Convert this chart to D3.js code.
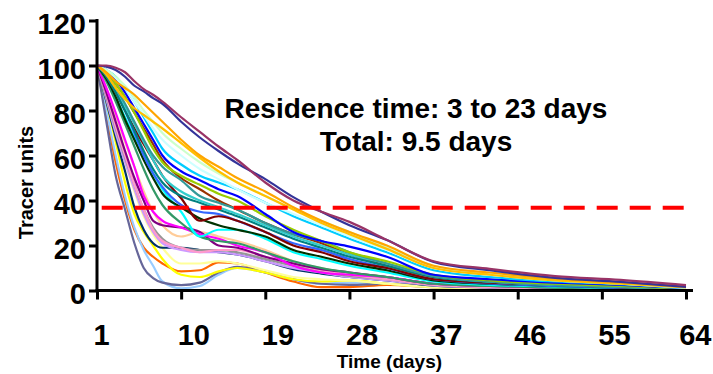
<!DOCTYPE html>
<html>
<head>
<meta charset="utf-8">
<script src="https://cdn.jsdelivr.net/npm/d3@7"></script>
<style>
  html, body { margin: 0; padding: 0; background: #fff; }
  svg { display: block; font-family: "Liberation Sans", Arial, sans-serif; font-weight: bold; }
</style>
</head>
<body>
<svg id="chart" width="713" height="374"></svg>
<script>
// ── Data ─────────────────────────────────────────────────────────────────────
// Sampling days shared by every tracer curve
const days = [1, 2, 3, 4, 5, 6, 7, 8, 10, 12, 14, 16, 19, 22, 25, 28, 32, 37, 43, 50, 57, 64];

const seriesColors = [
  "#FF6600", "#99CCFF", "#666699", "#FFFF00", "#FFFF99", "#003366", "#CC99FF",
  "#969696", "#FF99CC", "#FFCC99", "#800080", "#FF00FF", "#339966", "#00FFFF",
  "#003300", "#3366FF", "#800000", "#993300", "#008080", "#33CCCC", "#339999",
  "#99CC00", "#0000FF", "#00CCFF", "#CCFFFF", "#CCFFCC", "#FFC000", "#FFA500",
  "#333399", "#993366"
];

const seriesValues = [
  [100, 78, 57, 40, 27, 19, 15, 12, 8.5, 9, 12.5, 12, 8, 4, 1.5, 1.5, 2.5, 1.5, 1, 0.6, 0.3, 0.1],
  [100, 80, 60, 42, 28, 18, 11, 4, 1, 2, 7, 10, 8, 5, 3, 3.5, 3, 1.5, 1, 0.5, 0.2, 0.1],
  [100, 75, 51, 36, 21, 10, 5.5, 3.5, 2.4, 3.5, 8, 10.5, 8, 5, 3, 2.5, 3, 1.5, 1, 0.6, 0.3, 0.1],
  [100, 84, 66, 48, 34, 26, 20, 14, 7, 6, 8.5, 10, 8, 5, 4, 4.5, 3, 1.5, 1, 0.6, 0.3, 0.1],
  [100, 86, 71, 57, 44, 33, 25, 19, 12, 12, 13, 12, 9, 6, 5, 4.5, 3, 1.5, 1, 0.6, 0.3, 0.1],
  [100, 84, 68, 53, 37, 27, 21, 19, 19, 18, 17, 16, 13, 9.5, 7.5, 6, 4.5, 2.2, 1.3, 0.8, 0.5, 0.2],
  [100, 85, 70, 57, 45, 34, 26, 21, 18, 17, 17, 16, 13, 10, 8, 6, 4.5, 2.3, 1.4, 0.9, 0.5, 0.2],
  [100, 86, 72, 59, 47, 36, 28, 23, 19, 18, 18, 17, 14, 11, 8.5, 6.5, 5, 2.5, 1.5, 1, 0.6, 0.2],
  [100, 87, 73, 60, 47, 36, 27, 22, 19, 17, 18, 18, 15, 12, 9, 7, 5, 2.5, 1.5, 1, 0.6, 0.2],
  [100, 90, 78, 66, 55, 44, 35, 29, 24, 26, 24, 22, 18, 13, 10, 8, 6, 3, 2, 1.4, 0.8, 0.3],
  [100, 88, 75, 62, 50, 40, 31, 29, 28, 26, 20, 19, 15, 12, 9.5, 8, 6, 3, 2, 1.3, 0.8, 0.3],
  [100, 90, 79, 67, 55, 42, 35, 31, 28, 25, 23, 20, 17, 11, 8, 7, 6, 3, 2, 1.3, 0.8, 0.3],
  [100, 93, 84, 74, 64, 54, 45, 38, 30, 24, 22, 21, 17, 13, 10, 8, 6, 3, 2, 1.2, 0.7, 0.2],
  [100, 94, 86, 77, 68, 60, 52, 45, 35, 24, 27, 27, 23, 17, 14, 11, 8, 4, 2.5, 1.8, 1, 0.3],
  [100, 94, 86, 76, 67, 58, 50, 43, 37, 32, 29, 27, 24, 18, 15, 12, 9, 4.5, 3, 2, 1.2, 0.4],
  [100, 96, 89, 80, 70, 60, 52, 46, 38, 35, 34, 31, 26, 21, 18, 14, 10, 5, 3.2, 2, 1.2, 0.4],
  [100, 95, 88, 80, 72, 65, 58, 51, 41, 31, 33, 31, 26, 20, 17, 13, 10, 5, 3.5, 2.5, 1.5, 0.5],
  [100, 97, 92, 86, 79, 72, 65, 58, 50, 45, 40, 36, 30, 25, 21, 16, 11, 6, 4, 2.5, 1.5, 0.5],
  [100, 95, 88, 80, 71, 62, 54, 48, 42, 39, 36, 33, 28, 23, 19, 15, 11, 6, 3.8, 2.4, 1.5, 0.5],
  [100, 96, 90, 82, 74, 66, 58, 51, 44, 40, 37, 34, 29, 24, 20, 16, 12, 6.5, 4, 2.5, 1.6, 0.5],
  [100, 96, 90, 83, 75, 67, 60, 55, 49, 42, 39, 36, 30, 25, 22, 17, 12, 6.5, 4, 2.5, 1.7, 0.5],
  [100, 97, 92, 86, 79, 71, 63, 57, 51, 47, 43, 40, 33, 27, 22, 17, 13, 7, 4.5, 3, 2, 0.8],
  [100, 98, 94, 88, 81, 74, 67, 60, 53, 49, 45, 42, 34, 26, 22, 19.5, 15, 7, 5, 3.5, 2.5, 1],
  [100, 98, 95, 90, 84, 77, 70, 63, 56, 51, 48, 45, 39, 33, 28, 23, 17, 9, 6, 4, 2.8, 1],
  [100, 98, 94.5, 90, 84, 78, 72, 67, 60, 54, 49.5, 45, 39, 34, 29, 24, 18, 10, 7, 4.5, 3, 1.2],
  [100, 98, 95, 91, 86, 80, 75, 70, 63, 57, 52, 48, 42, 36, 31, 26, 19, 11, 7.5, 5, 3.4, 1.5],
  [100, 96, 90, 85, 81, 78, 75, 72, 65.5, 59, 53, 48, 42, 36, 30, 25, 18.5, 10, 7, 4.5, 3, 1.4],
  [100, 97, 93, 90, 87, 83, 79, 75, 67, 60, 55, 50, 44, 37, 31, 26, 20, 11, 8, 5.3, 3.6, 1.8],
  [100, 99.5, 98, 95, 91, 88.5, 85.5, 83, 75, 68, 62, 56.5, 49.5, 41.5, 35, 29, 22.4, 12.7, 9, 5.6, 3.8, 1.6],
  [100, 100, 99, 97, 93, 89.5, 87, 84, 77, 70.5, 64, 58, 48, 40, 35, 30.5, 22.5, 13, 9.6, 6.4, 4.7, 2.4]
];

const xTicks = [1, 10, 19, 28, 37, 46, 55, 64];
const yTicks = [0, 20, 40, 60, 80, 100, 120];
const threshold = 36.8;   // 100 / e
const titleLines = ["Residence time: 3 to 23 days", "Total: 9.5 days"];

// ── Layout ───────────────────────────────────────────────────────────────────
const svg = d3.select("#chart");
const x = d3.scaleLinear().domain([1, 64]).range([97, 686]);
const y = d3.scaleLinear().domain([0, 120]).range([290.5, 20.5]);

// Curves
const line = d3.line()
  .x((d, i) => x(days[i]))
  .y(d => y(d))
  .curve(d3.curveMonotoneX);

svg.append("g")
  .selectAll("path")
  .data(seriesValues)
  .join("path")
  .attr("d", line)
  .attr("fill", "none")
  .attr("stroke", (d, i) => seriesColors[i])
  .attr("stroke-width", 2.2)
  .attr("stroke-linejoin", "round");

// Red dashed reference line at 1/e
svg.append("line")
  .attr("x1", x(1) + 4.7).attr("x2", x(64) - 2)
  .attr("y1", y(threshold)).attr("y2", y(threshold))
  .attr("stroke", "#ff0000")
  .attr("stroke-width", 4)
  .attr("stroke-dasharray", "21,12");

// ── Axes ─────────────────────────────────────────────────────────────────────
const yAxisG = svg.append("g").attr("transform", `translate(${x(1)},0)`)
  .call(d3.axisLeft(y).tickValues(yTicks).tickSize(8).tickSizeOuter(0).tickPadding(3));
yAxisG.select(".domain").remove();
yAxisG.selectAll(".tick line").attr("stroke", "#000").attr("stroke-width", 3);
yAxisG.selectAll(".tick text")
  .attr("font-size", "29px").attr("font-weight", "bold").attr("fill", "#000")
  .attr("font-family", "Liberation Sans, Arial, sans-serif")
  .attr("dy", "0.44em");

const xAxisG = svg.append("g").attr("transform", `translate(0,${y(0)})`)
  .call(d3.axisBottom(x).tickValues(xTicks).tickSize(9).tickSizeOuter(0));
xAxisG.select(".domain").remove();
xAxisG.selectAll(".tick line").attr("stroke", "#000").attr("stroke-width", 3);
xAxisG.selectAll(".tick text")
  .attr("font-size", "29px").attr("font-weight", "bold").attr("fill", "#000")
  .attr("font-family", "Liberation Sans, Arial, sans-serif")
  .attr("text-anchor", "start")
  .attr("y", 54).attr("dy", 0)
  .attr("x", function (d) {
    const len = this.getComputedTextLength();
    const right = 711 - x(d);
    return Math.min(-4, right - len);
  });

// Axis lines
svg.append("line")
  .attr("x1", x(1)).attr("x2", x(1))
  .attr("y1", y(120) - 1.5).attr("y2", y(0) + 1.5)
  .attr("stroke", "#000").attr("stroke-width", 3);
svg.append("line")
  .attr("x1", x(1) - 1.5).attr("x2", x(64) + 7)
  .attr("y1", y(0)).attr("y2", y(0))
  .attr("stroke", "#000").attr("stroke-width", 3);

// Axis titles
svg.append("text")
  .attr("transform", `translate(33,${y(48)}) rotate(-90)`)
  .attr("text-anchor", "middle")
  .attr("font-size", "20px")
  .text("Tracer units");

svg.append("text")
  .attr("x", x(28) + 40).attr("y", 368)
  .attr("text-anchor", "middle")
  .attr("font-size", "19px")
  .text("Time (days)");

// Annotation
svg.append("g")
  .selectAll("text")
  .data(titleLines)
  .join("text")
  .attr("x", 416)
  .attr("y", (d, i) => 118 + i * 33)
  .attr("text-anchor", "middle")
  .attr("font-size", "28px")
  .text(d => d);
</script>
</body>
</html>
